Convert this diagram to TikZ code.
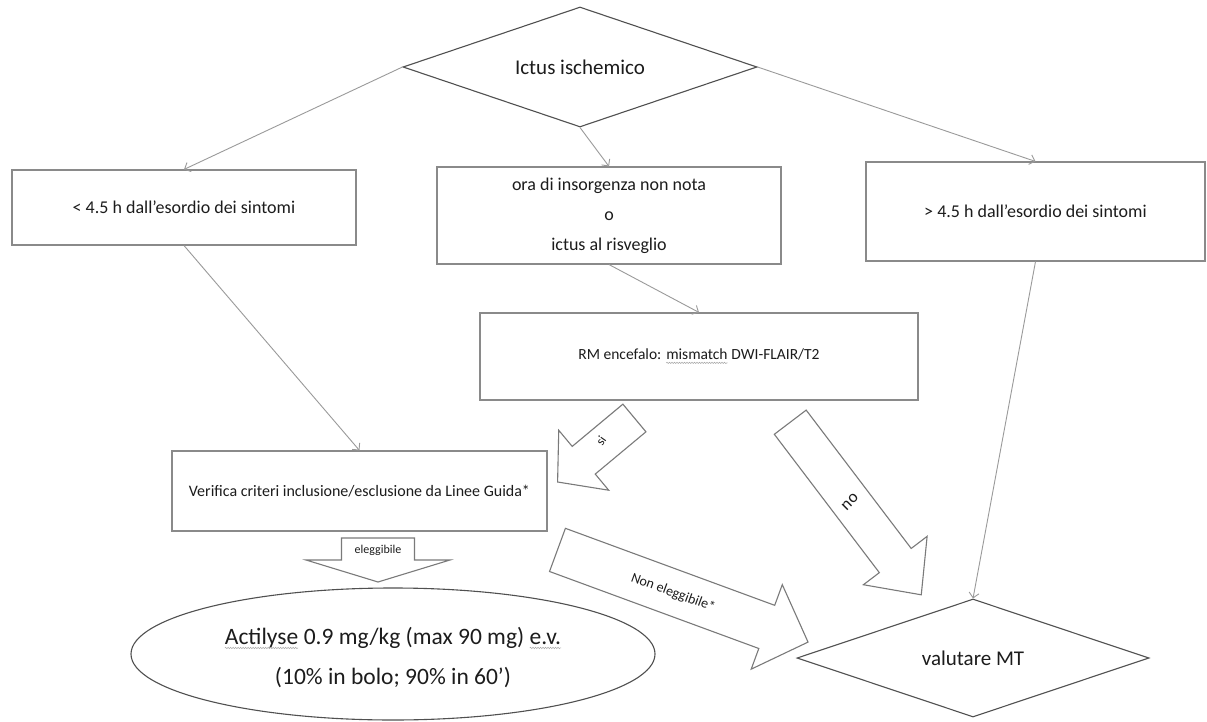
\documentclass[tikz,border=0pt]{standalone}
\usepackage{fontspec}
\setmainfont{Carlito}
\usetikzlibrary{shapes.geometric,arrows.meta,decorations.pathmorphing}
\definecolor{boxline}{HTML}{8A8A8A}
\definecolor{dline}{HTML}{505050}
\definecolor{connc}{HTML}{9A9A9A}
\definecolor{txt}{HTML}{1C1C1C}
\definecolor{sqc}{HTML}{A8A8A8}
\definecolor{bac}{HTML}{7A7A7A}
\newcommand{\sqw}[1]{\tikz[baseline=(w.base)]{\node[shape=rectangle,draw=none,fill=none,inner sep=0pt,outer sep=0pt,minimum width=0pt,minimum height=0pt,text=txt,anchor=base] (w) at (0,0) {#1};
  \draw[draw=sqc,line width=0.5pt,decorate,decoration={snake,amplitude=0.7pt,segment length=2.5pt}] ([yshift=-3pt]w.base west) -- ([yshift=-3pt]w.base east);}}
% block arrow: center, angle, length, shaft half width, head half width, head length
\newcommand{\barrow}[6]{%
  \begin{scope}[shift={#1},rotate=#2]
    \draw[blockarr] ({-(#3)/2},-#4) -- ({(#3)/2-(#6)},-#4) -- ({(#3)/2-(#6)},-#5) -- ({(#3)/2},0) -- ({(#3)/2-(#6)},#5) -- ({(#3)/2-(#6)},#4) -- ({-(#3)/2},#4) -- cycle;
  \end{scope}}
\begin{document}
\begin{tikzpicture}[x=1pt,y=-1pt,
  every node/.style={text=txt},
  box/.style={draw=boxline,line width=1.1pt,rectangle,inner sep=0pt,align=center},
  dia/.style={draw=dline,line width=1.1pt,diamond,shape aspect=3,inner sep=0pt},
  connector/.style={draw=connc,line width=0.9pt,-{Straight Barb[length=5pt,width=10pt]}},
  blockarr/.style={draw=bac,line width=1.1pt,fill=white,line join=miter},
  ]
\useasboundingbox (0,0) rectangle (1207,722);
\fill[white] (0,0) rectangle (1207,722);

\node[dia,minimum width=354pt,minimum height=120pt,font=\fontsize{21}{25}\selectfont] (ictus) at (580,67) {Ictus ischemico};
\node[box,minimum width=344pt,minimum height=75pt,font=\fontsize{18}{30}\selectfont] (lt) at (184,207.5) {< 4.5 h dall’esordio dei sintomi};
\node[box,minimum width=344pt,minimum height=97pt,font=\fontsize{18}{30}\selectfont] (mid) at (609,215.5) {ora di insorgenza non nota\\o\\ictus al risveglio};
\node[box,minimum width=339pt,minimum height=99pt,font=\fontsize{18}{30}\selectfont] (gt) at (1035.5,211.5) {> 4.5 h dall’esordio dei sintomi};
\node[box,minimum width=438pt,minimum height=87pt,font=\fontsize{15.5}{19}\selectfont] (rm) at (699,356.5) {RM encefalo: \sqw{mismatch} DWI-FLAIR/T2};
\node[box,minimum width=375pt,minimum height=80pt,font=\fontsize{16}{19}\selectfont] (ver) at (359.5,491) {Verifica criteri inclusione/esclusione da Linee Guida*};
\node[ellipse,draw=dline,line width=1.1pt,minimum width=524pt,minimum height=132pt,inner sep=0pt] (act) at (393,654) {};
\node[align=center,inner sep=0pt,font=\fontsize{23.5}{40}\selectfont] (acttxt) at (393,658) {\sqw{Actilyse} 0.9 mg/kg (max 90 mg) \sqw{e.v.}\\(10\% in bolo; 90\% in 60’)};
\node[dia,minimum width=352pt,minimum height=118pt,font=\fontsize{21}{25}\selectfont] (mt) at (973,658) {valutare MT};

\draw[connector] (ictus.west) -- (lt.north);
\draw[connector] (ictus.south) -- (mid.north);
\draw[connector] (ictus.east) -- (gt.north);
\draw[connector] (lt.south) -- (ver.north);
\draw[connector] (mid.south) -- (rm.north);
\draw[connector] (gt.south) -- (mt.north);

\barrow{(378,560)}{-90}{44}{36.5}{72}{22}
\node[font=\fontsize{12}{14}\selectfont] (lbel) at (378,550) {eleggibile};
\barrow{(596,450)}{219.8}{100}{18}{39}{34}
\node[font=\fontsize{13}{14}\selectfont,rotate=55] (lsi) at (601,441) {si};
\barrow{(855.75,508.5)}{-52.8}{216.7}{20}{40}{43}
\node[font=\fontsize{17}{18}\selectfont,rotate=45] (lno) at (850,502) {no};
\barrow{(682.75,596)}{-20.2}{267}{23}{45}{44}
\node[font=\fontsize{14}{16}\selectfont,rotate=-20.2] (lne) at (673,593) {Non eleggibile*};
\end{tikzpicture}
\end{document}
